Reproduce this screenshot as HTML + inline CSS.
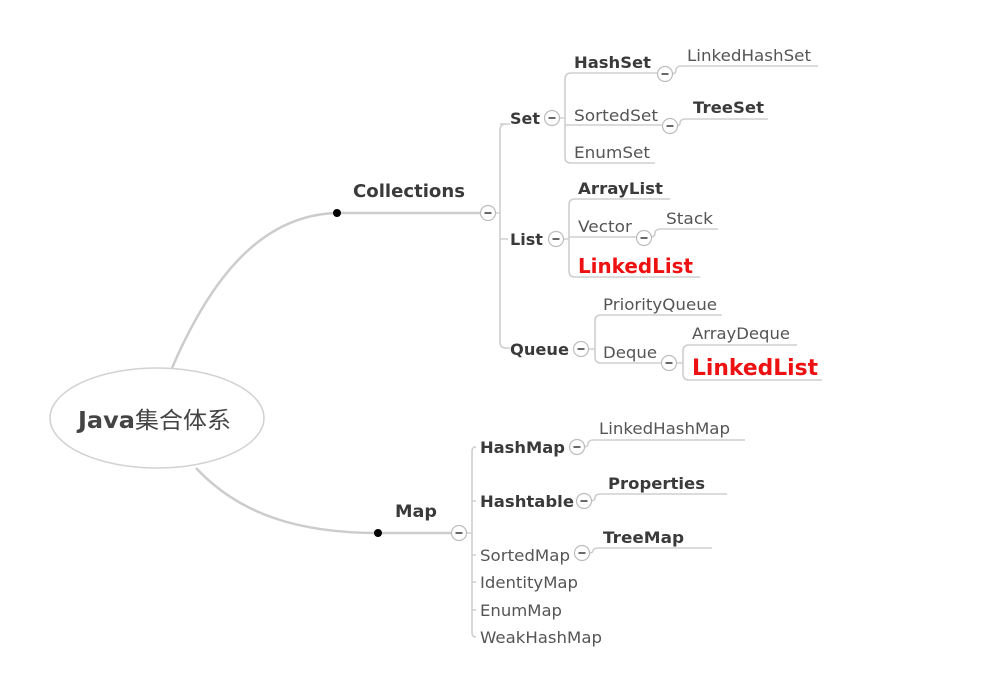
<!DOCTYPE html>
<html><head><meta charset="utf-8"><style>
html,body{margin:0;padding:0;background:#fff;}
svg{display:block;}
text{font-family:"DejaVu Sans","Liberation Sans","Noto Sans CJK SC",sans-serif;}
.n{fill:#555;font-size:16px;}
.b{fill:#3a3a3a;font-size:16px;font-weight:bold;}
.r{fill:#ee1111;font-weight:bold;}
.l{stroke:#cfcfcf;stroke-width:1.6;fill:none;}
.c{fill:#fff;stroke:#bdbdbd;stroke-width:1.2;}
.m{stroke:#444;stroke-width:1.6;}
</style></head><body>
<svg width="999" height="695" viewBox="0 0 999 695" xmlns="http://www.w3.org/2000/svg">
<rect width="999" height="695" fill="#fff"/>
<path d="M172 368 C 210 280, 260 215, 337 213 L 482 213" stroke="#cccccc" stroke-width="2.5" fill="none"/>
<path d="M196 468 C 240 515, 300 533, 378 533 L 453 533" stroke="#cccccc" stroke-width="2.5" fill="none"/>
<circle cx="337" cy="213" r="4" fill="#000"/>
<circle cx="378" cy="533" r="4" fill="#000"/>
<ellipse cx="157" cy="418" rx="107" ry="50" fill="#fff" stroke="#d2d2d2" stroke-width="1.5"/>
<text x="78" y="428" textLength="153" lengthAdjust="spacingAndGlyphs" style="font-size:23px;font-weight:bold;fill:#444">Java<tspan style="font-weight:normal;font-family:'Noto Sans CJK SC',sans-serif">集合体系</tspan></text>

<text class="b" x="353" y="197" textLength="112" lengthAdjust="spacingAndGlyphs" style="font-size:18px">Collections</text>
<path class="l" d="M494 213 L500 213 M506 124 Q500 124 500 130 L500 342 Q500 348 506 348 L510 348 M500 239 L508 239 M500 124 L510 124"/>
<text class="b" x="510" y="124" textLength="30" lengthAdjust="spacingAndGlyphs">Set</text>
<path class="l" d="M558 118 L565 118 M571 73 Q565 73 565 79 L565 157 Q565 163 571 163 L655 163 M565 125 L662 125 M571 73 L658 73"/>
<text class="b" x="574" y="68" textLength="77" lengthAdjust="spacingAndGlyphs">HashSet</text>
<path class="l" d="M671 74 Q676 74 676 70 Q676 66 682 66 L818 66"/>
<text class="n" x="687" y="61" textLength="124" lengthAdjust="spacingAndGlyphs">LinkedHashSet</text>
<text class="n" x="574" y="121" textLength="84" lengthAdjust="spacingAndGlyphs">SortedSet</text>
<path class="l" d="M676 126 Q680 126 680 123 Q680 119 686 119 L768 119"/>
<text class="b" x="693" y="113" textLength="71" lengthAdjust="spacingAndGlyphs">TreeSet</text>
<text class="n" x="574" y="158" textLength="76" lengthAdjust="spacingAndGlyphs">EnumSet</text>
<text class="b" x="510" y="245" textLength="33" lengthAdjust="spacingAndGlyphs">List</text>
<path class="l" d="M562 239 L569 239 M575 199 Q569 199 569 205 L569 271 Q569 277 575 277 L700 277 M575 199 L670 199 M569 237 L638 237"/>
<text class="b" x="578" y="194" textLength="85" lengthAdjust="spacingAndGlyphs">ArrayList</text>
<text class="n" x="578" y="232" textLength="54" lengthAdjust="spacingAndGlyphs">Vector</text>
<path class="l" d="M650 237 Q655 237 655 233 Q655 229 661 229 L718 229"/>
<text class="n" x="666" y="224" textLength="47" lengthAdjust="spacingAndGlyphs">Stack</text>
<text class="r" x="578" y="273" textLength="115" lengthAdjust="spacingAndGlyphs" style="font-size:20px">LinkedList</text>
<text class="b" x="510" y="355" textLength="59" lengthAdjust="spacingAndGlyphs">Queue</text>
<path class="l" d="M587 349 L595 349 M601 315 Q595 315 595 321 L595 357 Q595 363 601 363 L663 363 M601 315 L722 315"/>
<text class="n" x="603" y="310" textLength="114" lengthAdjust="spacingAndGlyphs">PriorityQueue</text>
<text class="n" x="603" y="358" textLength="54" lengthAdjust="spacingAndGlyphs">Deque</text>
<path class="l" d="M675 363 L683 363 M689 345 Q683 345 683 351 L683 374 Q683 380 689 380 L822 380 M689 345 L797 345"/>
<text class="n" x="692" y="339" textLength="98" lengthAdjust="spacingAndGlyphs">ArrayDeque</text>
<text class="r" x="692" y="375" textLength="126" lengthAdjust="spacingAndGlyphs" style="font-size:22px">LinkedList</text>

<text class="b" x="395" y="517" textLength="42" lengthAdjust="spacingAndGlyphs" style="font-size:17px">Map</text>
<path class="l" d="M465 533 L472 533 M476 447 Q472 447 472 451 L472 633 Q472 637 476 637 M472 501 L476 501 M472 555 L476 555 M472 582 L476 582 M472 610 L476 610"/>
<text class="b" x="480" y="453" textLength="85" lengthAdjust="spacingAndGlyphs">HashMap</text>
<path class="l" d="M583 447 Q588 447 588 444 Q588 440 594 440 L745 440"/>
<text class="n" x="599" y="434" textLength="131" lengthAdjust="spacingAndGlyphs">LinkedHashMap</text>
<text class="b" x="480" y="507" textLength="94" lengthAdjust="spacingAndGlyphs">Hashtable</text>
<path class="l" d="M590 501 Q595 501 595 498 Q595 494 601 494 L727 494"/>
<text class="b" x="608" y="489" textLength="97" lengthAdjust="spacingAndGlyphs">Properties</text>
<text class="n" x="480" y="561" textLength="90" lengthAdjust="spacingAndGlyphs">SortedMap</text>
<path class="l" d="M588 553 Q593 553 593 551 Q593 548 599 548 L712 548"/>
<text class="b" x="603" y="543" textLength="81" lengthAdjust="spacingAndGlyphs">TreeMap</text>
<text class="n" x="480" y="588" textLength="98" lengthAdjust="spacingAndGlyphs">IdentityMap</text>
<text class="n" x="480" y="616" textLength="82" lengthAdjust="spacingAndGlyphs">EnumMap</text>
<text class="n" x="480" y="643" textLength="122" lengthAdjust="spacingAndGlyphs">WeakHashMap</text>

<g>
<circle class="c" cx="488" cy="213" r="7.5"/><line class="m" x1="484.5" y1="213" x2="491.5" y2="213"/>
<circle class="c" cx="552" cy="118" r="7.5"/><line class="m" x1="548.5" y1="118" x2="555.5" y2="118"/>
<circle class="c" cx="665" cy="74" r="7.5"/><line class="m" x1="661.5" y1="74" x2="668.5" y2="74"/>
<circle class="c" cx="670" cy="126" r="7.5"/><line class="m" x1="666.5" y1="126" x2="673.5" y2="126"/>
<circle class="c" cx="556" cy="239" r="7.5"/><line class="m" x1="552.5" y1="239" x2="559.5" y2="239"/>
<circle class="c" cx="644" cy="238" r="7.5"/><line class="m" x1="640.5" y1="238" x2="647.5" y2="238"/>
<circle class="c" cx="581" cy="349" r="7.5"/><line class="m" x1="577.5" y1="349" x2="584.5" y2="349"/>
<circle class="c" cx="669" cy="363" r="7.5"/><line class="m" x1="665.5" y1="363" x2="672.5" y2="363"/>
<circle class="c" cx="459" cy="533" r="7.5"/><line class="m" x1="455.5" y1="533" x2="462.5" y2="533"/>
<circle class="c" cx="577" cy="447" r="7.5"/><line class="m" x1="573.5" y1="447" x2="580.5" y2="447"/>
<circle class="c" cx="584" cy="501" r="7.5"/><line class="m" x1="580.5" y1="501" x2="587.5" y2="501"/>
<circle class="c" cx="582" cy="553" r="7.5"/><line class="m" x1="578.5" y1="553" x2="585.5" y2="553"/>
</g>
</svg>
</body></html>
